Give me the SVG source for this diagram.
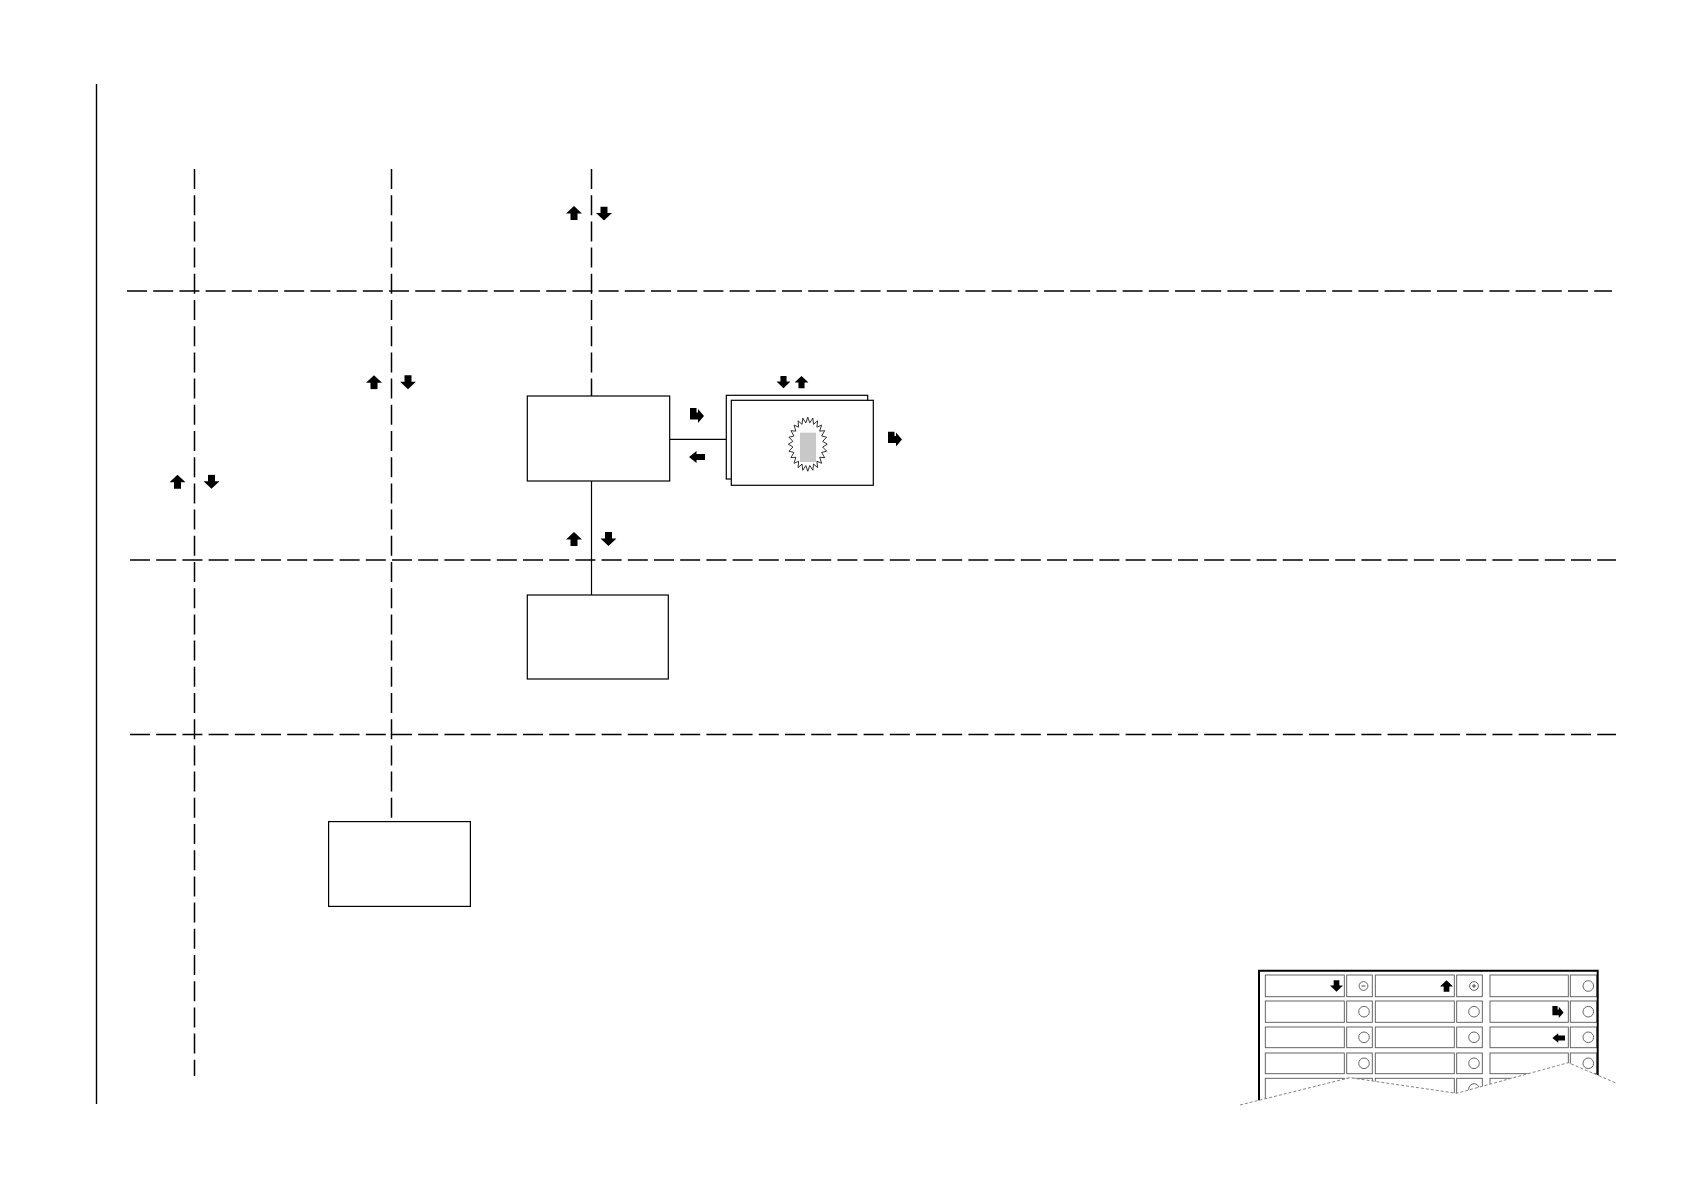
<svg xmlns="http://www.w3.org/2000/svg" width="1684" height="1190" viewBox="0 0 1684 1190">
<style>
.dash{stroke:#000;stroke-width:1.5;stroke-dasharray:20 6.2;fill:none}
.solid{stroke:#000;stroke-width:1.2;fill:none}
.box{fill:#fff;stroke:#000;stroke-width:1.2}
.cell{fill:#fff;stroke:#555;stroke-width:0.9}
.circ{fill:#fff;stroke:#555;stroke-width:0.9}
.tear{fill:none;stroke:#777;stroke-width:0.9;stroke-dasharray:3 2}
</style>
<defs>
<symbol id="up" viewBox="0 0 16 14"><path d="M8,0 L16,7.5 H11.5 V14 H4.5 V7.5 H0 Z" fill="#000"/></symbol>
<symbol id="down" viewBox="0 0 16 14"><path d="M8,14 L16,6.5 H11.5 V0 H4.5 V6.5 H0 Z" fill="#000"/></symbol>
<symbol id="left" viewBox="0 0 16 12"><path d="M0,6 L7.5,0 V3 H16 V9 H7.5 V12 Z" fill="#000"/></symbol>
<symbol id="turn" viewBox="0 0 14 15"><path d="M0,0 H6.5 V4.5 H8 V1 L14,8 L8,15 V11.5 H0 Z" fill="#000"/></symbol>
<clipPath id="tearclip"><polygon points="1200,900 1660,900 1660,1085 1616.7,1083.3 1568.3,1062.7 1456.7,1093.3 1350,1077.7 1240,1105 1200,1105"/></clipPath>
</defs>
<rect width="1684" height="1190" fill="#fff"/>
<g id="frame"><line x1="96.5" y1="84" x2="96.5" y2="1104" stroke="#000" stroke-width="1.4"/></g>
<g id="lanes">
<line class="dash" x1="127" y1="291" x2="1612" y2="291"/>
<line class="dash" x1="130" y1="560" x2="1616" y2="560"/>
<line class="dash" x1="130" y1="734.5" x2="1616" y2="734.5"/>
<line class="dash" x1="194.5" y1="169" x2="194.5" y2="1076"/>
</g>
<g id="connectors">
<line class="dash" x1="391.5" y1="169" x2="391.5" y2="821.6"/>
<line class="dash" x1="591.5" y1="169" x2="591.5" y2="396"/>
<line class="solid" x1="591.5" y1="481" x2="591.5" y2="598"/>
<line class="solid" x1="669.5" y1="439.3" x2="726.3" y2="439.3"/>
</g>
<g id="boxA"><rect class="box" x="527.3" y="396" width="142.4" height="85"/></g>
<g id="boxB"><rect class="box" x="527.3" y="595" width="141" height="84"/></g>
<g id="boxC"><rect class="box" x="328.6" y="821.6" width="141.8" height="84.8"/></g>
<g id="stack">
<rect class="box" x="726.3" y="395.3" width="141.4" height="83.7"/>
<rect class="box" x="731.3" y="400.3" width="142" height="85"/>
<polygon fill="#fff" stroke="#000" stroke-width="0.8" points="827.3,444.2 822.67,447.01 826.64,451.19 821.66,452.43 824.69,457.7 819.7,457.29 821.59,463.29 816.93,461.26 817.55,467.58 813.54,464.06 812.85,470.28 809.76,465.52 807.8,471.2 805.84,465.52 802.75,470.28 802.06,464.06 798.05,467.58 798.67,461.26 794.01,463.29 795.9,457.29 790.91,457.7 793.94,452.43 788.96,451.19 792.93,447.01 788.3,444.2 792.93,441.39 788.96,437.21 793.94,435.97 790.91,430.7 795.9,431.11 794.01,425.11 798.67,427.14 798.05,420.82 802.06,424.34 802.75,418.12 805.84,422.88 807.8,417.2 809.76,422.88 812.85,418.12 813.54,424.34 817.55,420.82 816.93,427.14 821.59,425.11 819.7,431.11 824.69,430.7 821.66,435.97 826.64,437.21 822.67,441.39"/>
<rect x="800" y="432.7" width="16" height="29.3" fill="#c8c8c8"/>
</g>
<g id="arrows">
<use href="#up" x="566" y="206" width="16" height="14"/>
<use href="#down" x="596" y="206.5" width="16" height="14"/>
<use href="#up" x="366" y="375" width="16" height="14.5"/>
<use href="#down" x="400" y="375" width="16" height="14.5"/>
<use href="#up" x="169.5" y="474.5" width="16" height="14.5"/>
<use href="#down" x="203.5" y="474.5" width="16" height="14.5"/>
<use href="#up" x="566" y="532" width="16" height="14"/>
<use href="#down" x="600.5" y="532" width="16" height="14"/>
<use href="#down" x="776.5" y="375" width="14" height="14"/>
<use href="#up" x="794.5" y="375" width="14" height="14"/>
<use href="#turn" x="690" y="408" width="14" height="15"/>
<use href="#turn" x="888" y="431.5" width="14" height="15"/>
<use href="#left" x="689" y="451" width="16" height="12"/>
</g>
<g id="legend">
<g clip-path="url(#tearclip)">
<g id="row1">
<rect class="cell" x="1265.3" y="975" width="79" height="21.7"/>
<rect class="cell" x="1346.7" y="975" width="25.6" height="21.7"/>
<rect class="cell" x="1375.3" y="975" width="79" height="21.7"/>
<rect class="cell" x="1456.7" y="975" width="25.6" height="21.7"/>
<rect class="cell" x="1490" y="975" width="78.3" height="21.7"/>
<rect class="cell" x="1570.3" y="975" width="26.4" height="21.7"/>
<circle class="circ" cx="1363.5" cy="986" r="4.4"/>
<line x1="1361.5" y1="986" x2="1365.5" y2="986" stroke="#333" stroke-width="0.9"/>
<circle class="circ" cx="1474" cy="986" r="4.4"/>
<line x1="1472" y1="986" x2="1476" y2="986" stroke="#333" stroke-width="0.9"/>
<line x1="1474" y1="984" x2="1474" y2="988" stroke="#333" stroke-width="0.9"/>
<circle class="circ" cx="1588.3" cy="986" r="5.3"/>
<use href="#down" x="1330" y="980" width="13" height="12"/>
<use href="#up" x="1440" y="980" width="13" height="12"/>
</g>
<g id="row2">
<rect class="cell" x="1265.3" y="1001" width="79" height="21.3"/>
<rect class="cell" x="1346.7" y="1001" width="25.6" height="21.3"/>
<rect class="cell" x="1375.3" y="1001" width="79" height="21.3"/>
<rect class="cell" x="1456.7" y="1001" width="25.6" height="21.3"/>
<rect class="cell" x="1490" y="1001" width="78.3" height="21.3"/>
<rect class="cell" x="1570.3" y="1001" width="26.4" height="21.3"/>
<circle class="circ" cx="1364" cy="1011.7" r="5.3"/>
<circle class="circ" cx="1474" cy="1011.7" r="5.3"/>
<circle class="circ" cx="1588.3" cy="1011.7" r="5.3"/>
<use href="#turn" x="1552" y="1006" width="12" height="12"/>
</g>
<g id="row3">
<rect class="cell" x="1265.3" y="1027" width="79" height="20.7"/>
<rect class="cell" x="1346.7" y="1027" width="25.6" height="20.7"/>
<rect class="cell" x="1375.3" y="1027" width="79" height="20.7"/>
<rect class="cell" x="1456.7" y="1027" width="25.6" height="20.7"/>
<rect class="cell" x="1490" y="1027" width="78.3" height="20.7"/>
<rect class="cell" x="1570.3" y="1027" width="26.4" height="20.7"/>
<circle class="circ" cx="1364" cy="1037.3" r="5.3"/>
<circle class="circ" cx="1474" cy="1037.3" r="5.3"/>
<circle class="circ" cx="1588.3" cy="1037.3" r="5.3"/>
<use href="#left" x="1552.3" y="1032" width="12.7" height="12"/>
</g>
<g id="row4">
<rect class="cell" x="1265.3" y="1053" width="79" height="20.7"/>
<rect class="cell" x="1346.7" y="1053" width="25.6" height="20.7"/>
<rect class="cell" x="1375.3" y="1053" width="79" height="20.7"/>
<rect class="cell" x="1456.7" y="1053" width="25.6" height="20.7"/>
<rect class="cell" x="1490" y="1053" width="78.3" height="20.7"/>
<rect class="cell" x="1570.3" y="1053" width="26.4" height="20.7"/>
<circle class="circ" cx="1364" cy="1063.3" r="5.3"/>
<circle class="circ" cx="1474" cy="1063.3" r="5.3"/>
<circle class="circ" cx="1588.3" cy="1063.3" r="5.3"/>
</g>
<g id="row5">
<rect class="cell" x="1265.3" y="1078.3" width="79" height="20.7"/>
<rect class="cell" x="1346.7" y="1078.3" width="25.6" height="20.7"/>
<rect class="cell" x="1375.3" y="1078.3" width="79" height="20.7"/>
<rect class="cell" x="1456.7" y="1078.3" width="25.6" height="20.7"/>
<rect class="cell" x="1490" y="1078.3" width="78.3" height="20.7"/>
<rect class="cell" x="1570.3" y="1078.3" width="26.4" height="20.7"/>
<circle class="circ" cx="1364" cy="1089" r="5.3"/>
<circle class="circ" cx="1474" cy="1089" r="5.3"/>
<circle class="circ" cx="1588.3" cy="1089" r="5.3"/>
</g>
<path d="M1259,1102 V970.7 H1597.7 V1090" fill="none" stroke="#000" stroke-width="2"/>
</g>
<polyline class="tear" points="1240,1105 1350,1077.7 1456.7,1093.3 1568.3,1062.7 1616.7,1083.3"/>
</g>
</svg>
